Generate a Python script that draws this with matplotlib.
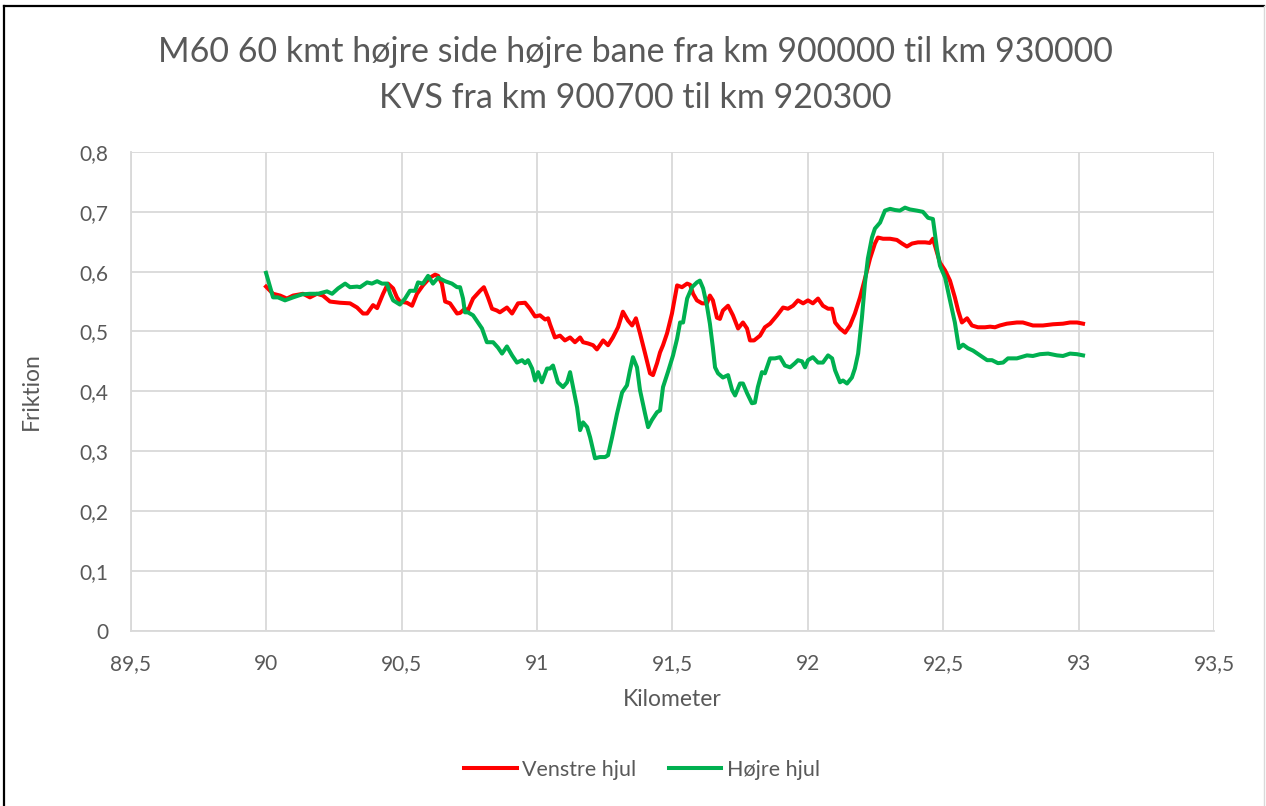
import matplotlib
matplotlib.use("Agg")
import matplotlib.pyplot as plt
from matplotlib.lines import Line2D

plt.rcParams['font.family'] = ['Lato', 'DejaVu Sans']

# Venstre hjul (red)
km_venstre = [90.000, 90.026, 90.052, 90.077, 90.100, 90.137, 90.162, 90.188, 90.210, 90.236,
              90.273, 90.310, 90.336, 90.358, 90.373, 90.395, 90.410, 90.432, 90.450, 90.469,
              90.483, 90.494, 90.520, 90.539, 90.557, 90.579, 90.605, 90.624, 90.635, 90.649,
              90.661, 90.679, 90.705, 90.716, 90.734, 90.745, 90.764, 90.790, 90.804, 90.819,
              90.834, 90.852, 90.863, 90.889, 90.908, 90.930, 90.956, 90.974, 90.993, 91.011,
              91.030, 91.041, 91.048, 91.066, 91.085, 91.103, 91.122, 91.140, 91.159, 91.170,
              91.188, 91.207, 91.221, 91.232, 91.244, 91.262, 91.280, 91.299, 91.317, 91.336,
              91.351, 91.365, 91.380, 91.399, 91.417, 91.428, 91.443, 91.454, 91.465, 91.480,
              91.498, 91.517, 91.535, 91.554, 91.565, 91.576, 91.590, 91.609, 91.627, 91.638,
              91.649, 91.664, 91.675, 91.686, 91.705, 91.723, 91.742, 91.760, 91.775, 91.786,
              91.801, 91.823, 91.841, 91.860, 91.886, 91.908, 91.926, 91.945, 91.963, 91.982,
              92.000, 92.018, 92.037, 92.055, 92.074, 92.089, 92.100, 92.118, 92.137, 92.155,
              92.173, 92.192, 92.210, 92.229, 92.247, 92.258, 92.277, 92.303, 92.328, 92.347,
              92.365, 92.384, 92.406, 92.432, 92.450, 92.461, 92.476, 92.487, 92.506, 92.524,
              92.542, 92.554, 92.568, 92.587, 92.605, 92.627, 92.653, 92.672, 92.690, 92.708,
              92.734, 92.771, 92.793, 92.830, 92.867, 92.904, 92.941, 92.967, 92.993, 93.015]
venstre = [0.575, 0.563, 0.560, 0.555, 0.560, 0.563, 0.557, 0.563, 0.560, 0.550,
           0.548, 0.547, 0.540, 0.530, 0.530, 0.544, 0.539, 0.563, 0.580, 0.572,
           0.557, 0.550, 0.548, 0.543, 0.563, 0.577, 0.590, 0.595, 0.593, 0.580,
           0.550, 0.547, 0.530, 0.531, 0.538, 0.535, 0.555, 0.568, 0.574, 0.557,
           0.538, 0.535, 0.532, 0.540, 0.530, 0.547, 0.548, 0.538, 0.525, 0.527,
           0.520, 0.522, 0.512, 0.490, 0.493, 0.485, 0.490, 0.482, 0.490, 0.482,
           0.480, 0.477, 0.470, 0.477, 0.485, 0.477, 0.490, 0.507, 0.533, 0.518,
           0.510, 0.522, 0.497, 0.463, 0.430, 0.427, 0.447, 0.465, 0.477, 0.497,
           0.530, 0.577, 0.574, 0.580, 0.578, 0.563, 0.552, 0.547, 0.547, 0.560,
           0.552, 0.523, 0.521, 0.535, 0.543, 0.527, 0.505, 0.515, 0.505, 0.485,
           0.485, 0.493, 0.507, 0.513, 0.527, 0.540, 0.538, 0.543, 0.552, 0.547,
           0.552, 0.547, 0.555, 0.543, 0.538, 0.538, 0.515, 0.505, 0.498, 0.510,
           0.530, 0.557, 0.588, 0.622, 0.647, 0.657, 0.655, 0.655, 0.653, 0.647,
           0.642, 0.647, 0.649, 0.649, 0.648, 0.655, 0.632, 0.615, 0.602, 0.585,
           0.557, 0.535, 0.515, 0.522, 0.510, 0.507, 0.507, 0.508, 0.507, 0.510,
           0.513, 0.515, 0.515, 0.510, 0.510, 0.512, 0.513, 0.515, 0.515, 0.513]

# Højre hjul (green)
km_hojre = [90.000, 90.015, 90.026, 90.044, 90.070, 90.100, 90.133, 90.162, 90.192, 90.225,
            90.244, 90.266, 90.292, 90.310, 90.336, 90.347, 90.373, 90.391, 90.410, 90.428,
            90.446, 90.458, 90.469, 90.494, 90.513, 90.531, 90.550, 90.561, 90.579, 90.598,
            90.616, 90.635, 90.661, 90.686, 90.705, 90.716, 90.727, 90.734, 90.745, 90.764,
            90.782, 90.797, 90.815, 90.838, 90.856, 90.871, 90.889, 90.908, 90.926, 90.945,
            90.956, 90.967, 90.982, 90.993, 91.004, 91.018, 91.037, 91.048, 91.059, 91.077,
            91.096, 91.111, 91.122, 91.133, 91.148, 91.159, 91.170, 91.185, 91.196, 91.214,
            91.232, 91.251, 91.262, 91.277, 91.295, 91.314, 91.332, 91.343, 91.354, 91.369,
            91.380, 91.399, 91.410, 91.424, 91.443, 91.454, 91.465, 91.483, 91.502, 91.517,
            91.528, 91.539, 91.554, 91.572, 91.590, 91.601, 91.613, 91.627, 91.638, 91.649,
            91.657, 91.668, 91.686, 91.705, 91.720, 91.731, 91.749, 91.760, 91.775, 91.793,
            91.804, 91.815, 91.830, 91.841, 91.860, 91.878, 91.897, 91.915, 91.934, 91.952,
            91.963, 91.978, 91.989, 92.000, 92.018, 92.037, 92.055, 92.074, 92.089, 92.100,
            92.118, 92.129, 92.144, 92.162, 92.173, 92.185, 92.199, 92.210, 92.221, 92.236,
            92.247, 92.266, 92.284, 92.303, 92.321, 92.339, 92.358, 92.376, 92.402, 92.424,
            92.443, 92.461, 92.476, 92.487, 92.506, 92.524, 92.542, 92.557, 92.572, 92.590,
            92.609, 92.635, 92.661, 92.679, 92.701, 92.720, 92.738, 92.771, 92.808, 92.830,
            92.856, 92.886, 92.919, 92.941, 92.967, 92.993, 93.015]
hojre = [0.598, 0.574, 0.557, 0.557, 0.552, 0.557, 0.562, 0.563, 0.563, 0.567,
         0.563, 0.572, 0.580, 0.574, 0.575, 0.574, 0.582, 0.580, 0.584, 0.580,
         0.580, 0.563, 0.552, 0.545, 0.555, 0.568, 0.568, 0.582, 0.580, 0.593,
         0.580, 0.590, 0.584, 0.580, 0.574, 0.574, 0.555, 0.532, 0.532, 0.527,
         0.515, 0.505, 0.482, 0.482, 0.473, 0.463, 0.475, 0.460, 0.448, 0.452,
         0.447, 0.452, 0.438, 0.418, 0.432, 0.415, 0.438, 0.438, 0.443, 0.415,
         0.407, 0.415, 0.432, 0.407, 0.373, 0.335, 0.348, 0.340, 0.323, 0.288,
         0.290, 0.290, 0.293, 0.323, 0.362, 0.398, 0.410, 0.435, 0.457, 0.440,
         0.402, 0.362, 0.340, 0.352, 0.365, 0.368, 0.407, 0.432, 0.460, 0.488,
         0.515, 0.515, 0.555, 0.574, 0.582, 0.585, 0.572, 0.543, 0.513, 0.473,
         0.440, 0.430, 0.423, 0.427, 0.402, 0.393, 0.413, 0.413, 0.397, 0.380,
         0.381, 0.407, 0.432, 0.430, 0.455, 0.455, 0.457, 0.443, 0.440, 0.447,
         0.452, 0.450, 0.440, 0.452, 0.457, 0.448, 0.448, 0.460, 0.455, 0.435,
         0.415, 0.418, 0.413, 0.423, 0.438, 0.463, 0.523, 0.580, 0.622, 0.657,
         0.672, 0.682, 0.702, 0.705, 0.703, 0.702, 0.707, 0.704, 0.702, 0.700,
         0.690, 0.688, 0.638, 0.610, 0.590, 0.552, 0.515, 0.472, 0.478, 0.472,
         0.468, 0.460, 0.452, 0.452, 0.447, 0.448, 0.455, 0.455, 0.460, 0.459,
         0.462, 0.463, 0.460, 0.459, 0.463, 0.462, 0.460]

x_ticks = [89.5, 90, 90.5, 91, 91.5, 92, 92.5, 93, 93.5]
y_ticks = [0, 0.1, 0.2, 0.3, 0.4, 0.5, 0.6, 0.7, 0.8]

text_col = '#595959'
grid_col = '#d9d9d9'
lw = 2.9

fig = plt.figure(figsize=(12.66, 8.06), dpi=100)
ax = fig.add_axes([0.1031, 0.2177, 0.8562, 0.5937])

ax.plot(km_venstre, venstre, color='#ff0000', lw=lw, solid_joinstyle='round', zorder=3)
ax.plot(km_hojre, hojre, color='#00b050', lw=lw, solid_joinstyle='round', zorder=4)

ax.set_xlim(89.5, 93.5)
ax.set_ylim(0, 0.8)
ax.set_xticks(x_ticks)
ax.set_yticks(y_ticks)
ax.set_xticklabels([f"{t:g}".replace('.', ',') for t in x_ticks])
ax.set_yticklabels([f"{t:g}".replace('.', ',') for t in y_ticks])
ax.tick_params(length=0, labelsize=15, labelcolor=text_col)
ax.tick_params(axis='x', pad=17)
ax.tick_params(axis='y', pad=16)
ax.grid(True, color=grid_col, lw=1.3)
ax.set_axisbelow(True)
for s in ['top', 'right']:
    ax.spines[s].set_visible(False)
for s in ['left', 'bottom']:
    ax.spines[s].set_color(grid_col)
    ax.spines[s].set_linewidth(1.3)

fig.text(672 / 1266, 1 - 700 / 806, 'Kilometer', ha='center', va='center',
         fontsize=16.5, color=text_col)
fig.text(31 / 1266, 1 - 391 / 806, 'Friktion', ha='center', va='center',
         rotation=90, fontsize=16.5, color=text_col)

fig.text(635 / 1266, 1 - 52 / 806, 'M60 60 kmt højre side højre bane fra km 900000 til km 930000',
         ha='center', va='center', fontsize=24.5, color=text_col)
fig.text(635 / 1266, 1 - 98 / 806, 'KVS fra km 900700 til km 920300',
         ha='center', va='center', fontsize=24.5, color=text_col)

handles = [Line2D([], [], color='#ff0000', lw=lw), Line2D([], [], color='#00b050', lw=lw)]
fig.legend(handles, ['Venstre hjul', 'Højre hjul'], loc='center',
           bbox_to_anchor=(642 / 1266, 1 - 770 / 806), ncol=2, frameon=False,
           fontsize=15.5, labelcolor=text_col, handlelength=2.45, handletextpad=0.25,
           columnspacing=1.5)

# chart border
fig.add_artist(Line2D([4 / 1266, 4 / 1266], [0, 1 - 6 / 806], color='black', lw=1.6))
fig.add_artist(Line2D([4 / 1266, 1264 / 1266], [1 - 6 / 806, 1 - 6 / 806], color='black', lw=1.6))
fig.add_artist(Line2D([1264 / 1266, 1264 / 1266], [0, 1 - 6 / 806], color='#d9d9d9', lw=1.0))

fig.savefig('out.png', dpi=100)
